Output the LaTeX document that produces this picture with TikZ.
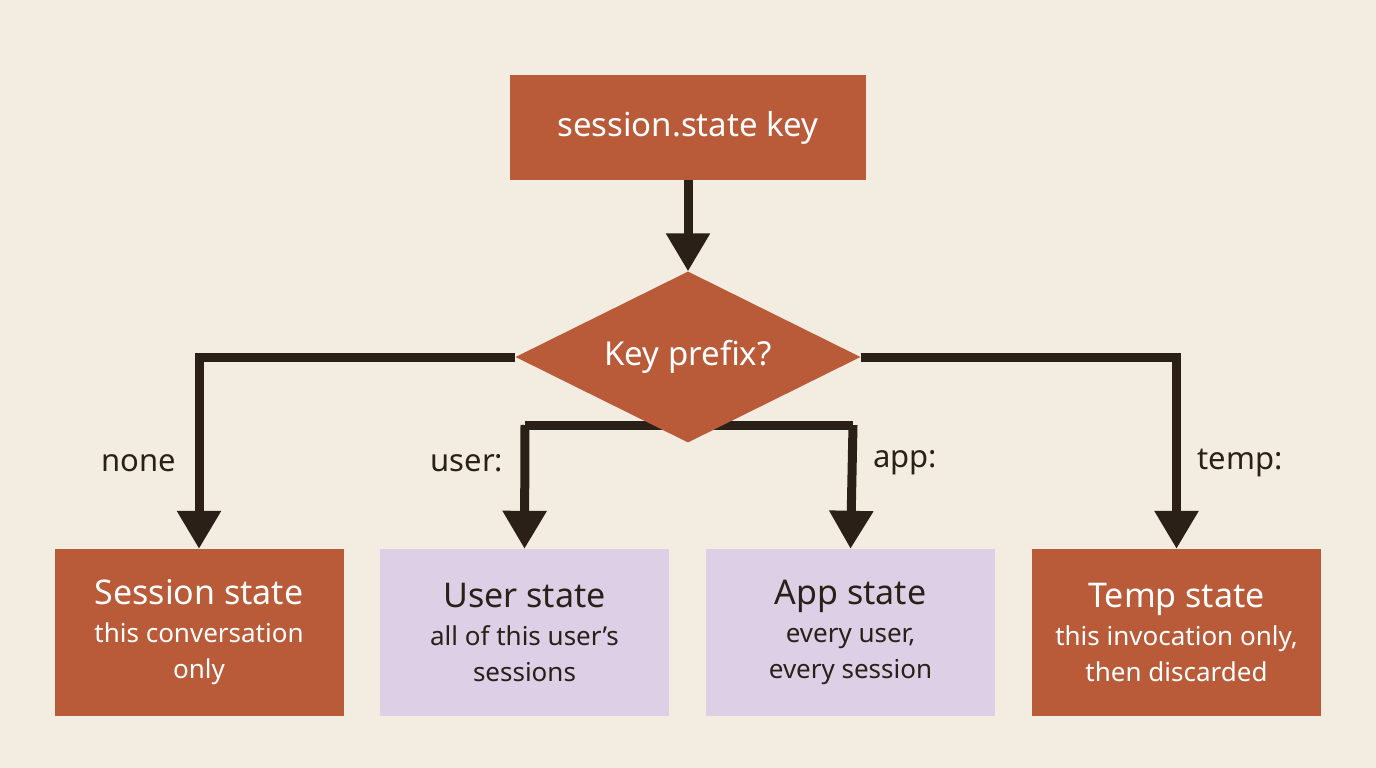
\documentclass[tikz,border=0pt]{standalone}
\usepackage{fontspec}
\setmainfont{Noto Sans}
\usetikzlibrary{shapes.geometric,arrows.meta}
\definecolor{bg}{HTML}{F2EDE0}
\definecolor{org}{HTML}{B95B39}
\definecolor{lav}{HTML}{DDD0E6}
\definecolor{ln}{HTML}{2A2018}
\begin{document}
\begin{tikzpicture}[x=1pt,y=-1pt,
  box/.style={rectangle,minimum width=289pt,minimum height=167pt,inner sep=0pt,align=center,font=\fontsize{26}{36}\selectfont},
  obox/.style={box,fill=org,text=white},
  lbox/.style={box,fill=lav,text=ln},
  con/.style={draw=ln,line width=9pt,line join=miter},
  arr/.style={con,-{Triangle[width=42pt,length=38pt]}},
  lab/.style={text=ln,font=\fontsize{31}{36}\selectfont}]
\newcommand\ttl[1]{{\fontsize{34}{40}\selectfont #1}\\[2pt]}
\fill[bg] (0,0) rectangle (1376,768);
\useasboundingbox (0,0) rectangle (1376,768);
\node[fill=org,text=white,minimum width=356pt,minimum height=105pt,inner sep=0pt,font=\fontsize{33}{38}\selectfont] (top) at (688,127.5) {session.state key};
\coordinate (cu) at (525,425);
\coordinate (ca) at (853,425);
\node[obox] (s) at (199,632.5) {\ttl{Session state}this conversation\\only};
\node[lbox] (u) at (524.5,632.5) {\ttl{User state}all of this user’s\\sessions};
\node[lbox] (a) at (850.5,632.5) {\ttl{App state}every user,\\every session};
\node[obox] (t) at (1176.5,632.5) {\ttl{Temp state}this invocation only,\\then discarded};
\draw[con] (cu) -- (ca);
\draw[arr] (cu) -- (u.north);
\draw[arr] (ca) -- (a.north);
\node[diamond,aspect=2.02,fill=org,text=white,minimum width=345pt,minimum height=171pt,inner sep=0pt,font=\fontsize{33}{38}\selectfont] (d) at (688,357) {Key prefix?};
\draw[arr] (top.south) -- (d.north);
\draw[arr] (d.west) -| (s.north);
\draw[arr] (d.east) -| (t.north);
\node[lab] (l1) at (139,463) {none};
\node[lab] (l2) at (467,463) {user:};
\node[lab] (l3) at (905,463) {app:};
\node[lab] (l4) at (1240,463) {temp:};
\end{tikzpicture}
\end{document}
